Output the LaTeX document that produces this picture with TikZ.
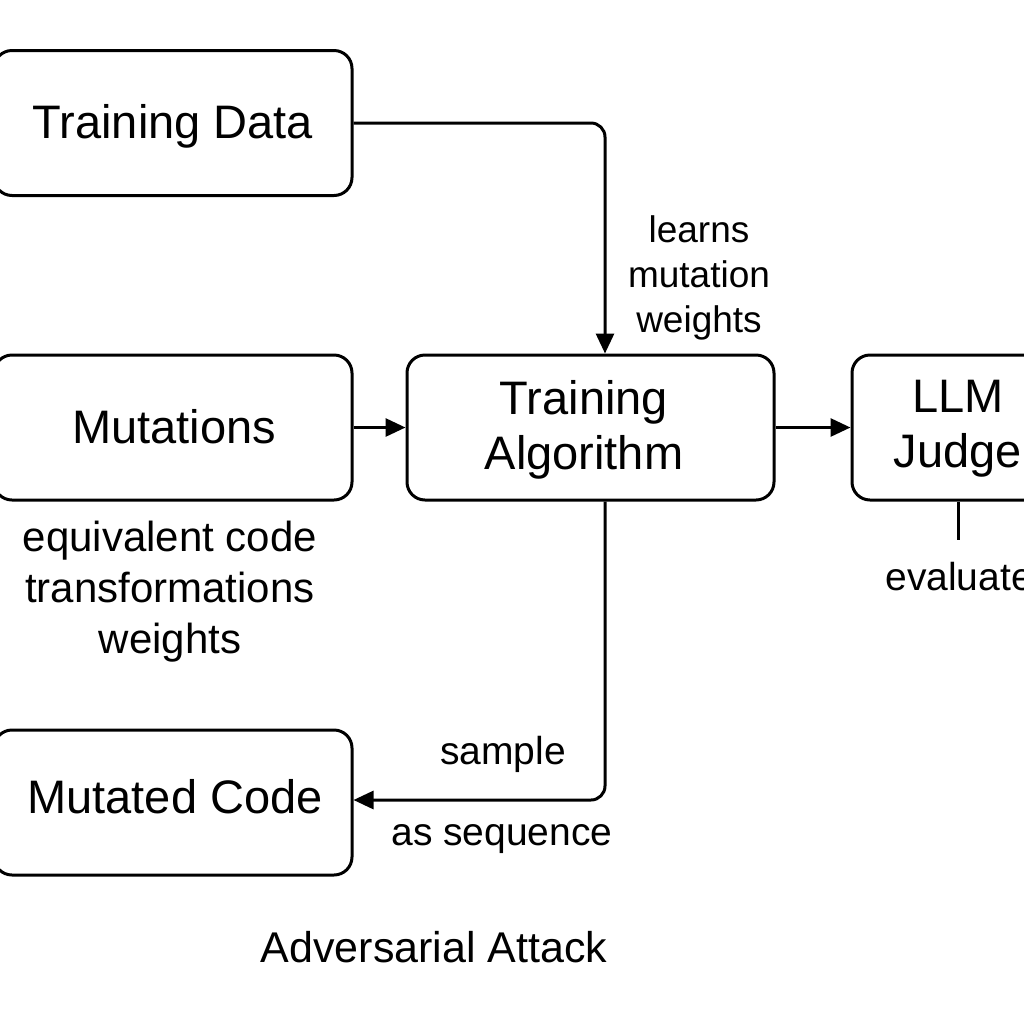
\documentclass[tikz,border=0pt]{standalone}
\usepackage{fontspec}
\setmainfont{Liberation Sans}
\usetikzlibrary{arrows.meta}
\begin{document}
\begin{tikzpicture}[x=0.5pt,y=-0.5pt,
  box/.style={draw,line width=1.5pt,rounded corners=9pt,minimum height=72.5pt,inner sep=0pt},
  boxtext/.style={align=center,font=\fontsize{23.5}{27.5}\selectfont,inner sep=0pt},
  conn/.style={line width=1.5pt,rounded corners=7pt},
  arr/.style={conn,-{Triangle[length=10pt,width=9pt]}},
  lbl/.style={align=center,inner sep=0pt}]
\clip (0,0) rectangle (1024,1024);
\useasboundingbox (0,0) rectangle (1024,1024);
\node[box,minimum width=179pt] (td) at (173,123) {};
\node[box,minimum width=179pt] (mu) at (173,427.5) {};
\node[box,minimum width=179pt] (mc) at (173,802.5) {};
\node[box,minimum width=183.5pt] (ta) at (590.5,427.5) {};
\node[box,minimum width=106pt] (lj) at (958,427.5) {};
\node[boxtext] (tdt) at (173,126) {Training Data};
\node[boxtext] (mut) at (174,427) {Mutations};
\node[boxtext] (mct) at (175,797) {Mutated Code};
\node[boxtext] (tat) at (584,430) {Training\\Algorithm};
\node[boxtext] (ljt) at (958,429) {LLM\\Judge};
\coordinate (tdc) at (605,123);
\coordinate (tac) at (605,800);
\coordinate (ljb) at (958,540);
\draw[arr] (td.east) -- (tdc) -- (ta.north -| tdc);
\draw[arr] (mu.east) -- (ta.west);
\draw[arr] (ta.east) -- (lj.west);
\draw[arr] (ta.south -| tac) -- (tac) -- (mc.east |- tac);
\draw[conn] (lj.south) -- (ljb);
\node[lbl,font=\fontsize{18.5}{22.5}\selectfont] (l1) at (699,278) {learns\\mutation\\weights};
\node[lbl,font=\fontsize{21}{25.5}\selectfont] (l2) at (170,592) {equivalent code\\transformations\\weights};
\node[lbl,font=\fontsize{19.5}{23}\selectfont] (l3) at (503,754) {sample};
\node[lbl,font=\fontsize{19.5}{23}\selectfont] (l4) at (502,839) {as sequence};
\node[lbl,font=\fontsize{21.5}{25}\selectfont] (l5) at (434,947) {Adversarial Attack};
\node[lbl,font=\fontsize{19.5}{23}\selectfont,anchor=west] (l6) at (885,577) {evaluates};
\end{tikzpicture}
\end{document}
